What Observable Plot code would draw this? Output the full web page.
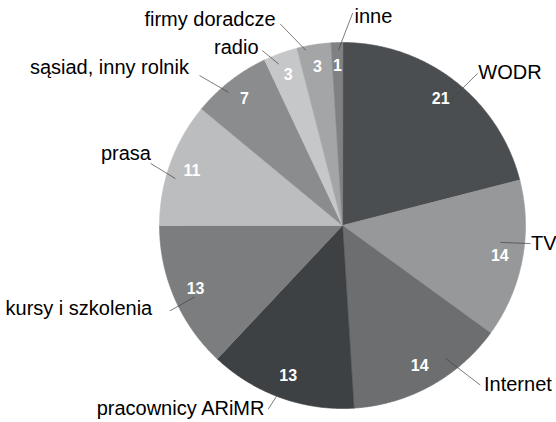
<!DOCTYPE html>
<html><head><meta charset="utf-8">
<script src="https://cdn.jsdelivr.net/npm/d3@7"></script>
<script src="https://cdn.jsdelivr.net/npm/@observablehq/plot@0.6"></script>
<style>body{margin:0;background:#fff} svg{display:block} svg text{font-family:"Liberation Sans",Arial,sans-serif !important}</style>
</head><body><div id="chart"></div>
<script>
const labels = ["WODR","TV","Internet","pracownicy ARiMR","kursy i szkolenia","prasa","sąsiad, inny rolnik","radio","firmy doradcze","inne"];
const values = [21,14,14,13,13,11,7,3,3,1];
const colors = ["#4b4e50","#97989a","#6d6e70","#3e4143","#7b7d7e","#bcbdbf","#8b8c8e","#c6c7c8","#a4a5a7","#808183"];

// layout (polar: degrees clockwise from 12 o'clock, radius as fraction of pie radius)
const W = 556, H = 422, CX = 342, CY = 225, R = 183;
const leaderInner = [[40.6,.86],[96.1,.87],[142.2,.92],[200.6,.96],[244.2,.90],[285.7,.95],[319.4,.96],[338.4,.95],[348.1,.98],[358.7,.96]];
const leaderOuter = [[41.6,1.11],[95.5,1.03],[139.2,1.15],[202,1.08],[243.7,1.05],[287.9,1.10],[316.4,1.13],[335.4,1.05],[342.9,1.15],[2.7,1.16]];
const textOffset = [[1,-1,"start"],[1,0,"start"],[4,0,"start"],[-4,0,"end"],[-18,-2,"end"],[0,-10,"end"],[-11,-8,"end"],[-4,-3,"end"],[-5,-5,"end"],[2,3,"start"]];

const rad = d => d * Math.PI / 180;
const px = (deg, r) => r * Math.sin(rad(deg));
const py = (deg, r) => r * Math.cos(rad(deg));

const total = d3.sum(values);
let acc = 0;
const slices = values.map((v, i) => {
  const a0 = acc / total * 360; acc += v; const a1 = acc / total * 360;
  return {label: labels[i], value: v, a0, a1, mid: (a0 + a1) / 2};
});

const polys = [];
for (const s of slices) {
  polys.push({label: s.label, x: 0, y: 0});
  const n = Math.max(2, Math.ceil((s.a1 - s.a0) / 0.5));
  for (let k = 0; k <= n; k++) {
    const a = s.a0 + (s.a1 - s.a0) * k / n;
    polys.push({label: s.label, x: px(a, 1), y: py(a, 1)});
  }
}

const valueLabels = slices.map(s => ({text: String(s.value), x: px(s.mid, .875), y: py(s.mid, .875)}));

const leaders = [];
slices.forEach((s, i) => {
  const [ai, ri] = leaderInner[i], [ao, ro] = leaderOuter[i];
  leaders.push({id: i, x: px(ai, ri), y: py(ai, ri)});
  leaders.push({id: i, x: px(ao, ro), y: py(ao, ro)});
});

const outerLabels = slices.map((s, i) => {
  const [ao, ro] = leaderOuter[i];
  const [dx, dy, anchor] = textOffset[i];
  return {text: s.label, x: px(ao, ro) + dx / R, y: py(ao, ro) - dy / R, anchor};
});

const font = "Liberation Sans, Arial, sans-serif";

const chart = Plot.plot({
  width: W, height: H,
  margin: 0,
  x: {domain: [-CX / R, (W - CX) / R], axis: null},
  y: {domain: [-(H - CY) / R, CY / R], axis: null},
  color: {type: "ordinal", domain: labels, range: colors},
  style: {background: "#fff"},
  marks: [
    Plot.line(polys, {x: "x", y: "y", z: "label", fill: "label", stroke: "label", strokeWidth: 0.6, curve: "linear-closed"}),
    Plot.line(leaders, {x: "x", y: "y", z: "id", stroke: "#444", strokeWidth: 0.7}),
    Plot.text(valueLabels, {x: "x", y: "y", text: "text", fill: "#fff", fontWeight: "bold", fontSize: 16, fontFamily: font}),
    Plot.text(outerLabels.filter(d => d.anchor === "start"), {x: "x", y: "y", text: "text", fill: "#000", fontSize: 20, fontFamily: font, textAnchor: "start"}),
    Plot.text(outerLabels.filter(d => d.anchor === "end"), {x: "x", y: "y", text: "text", fill: "#000", fontSize: 20, fontFamily: font, textAnchor: "end"})
  ]
});
document.getElementById("chart").append(chart);
</script>
</body></html>
